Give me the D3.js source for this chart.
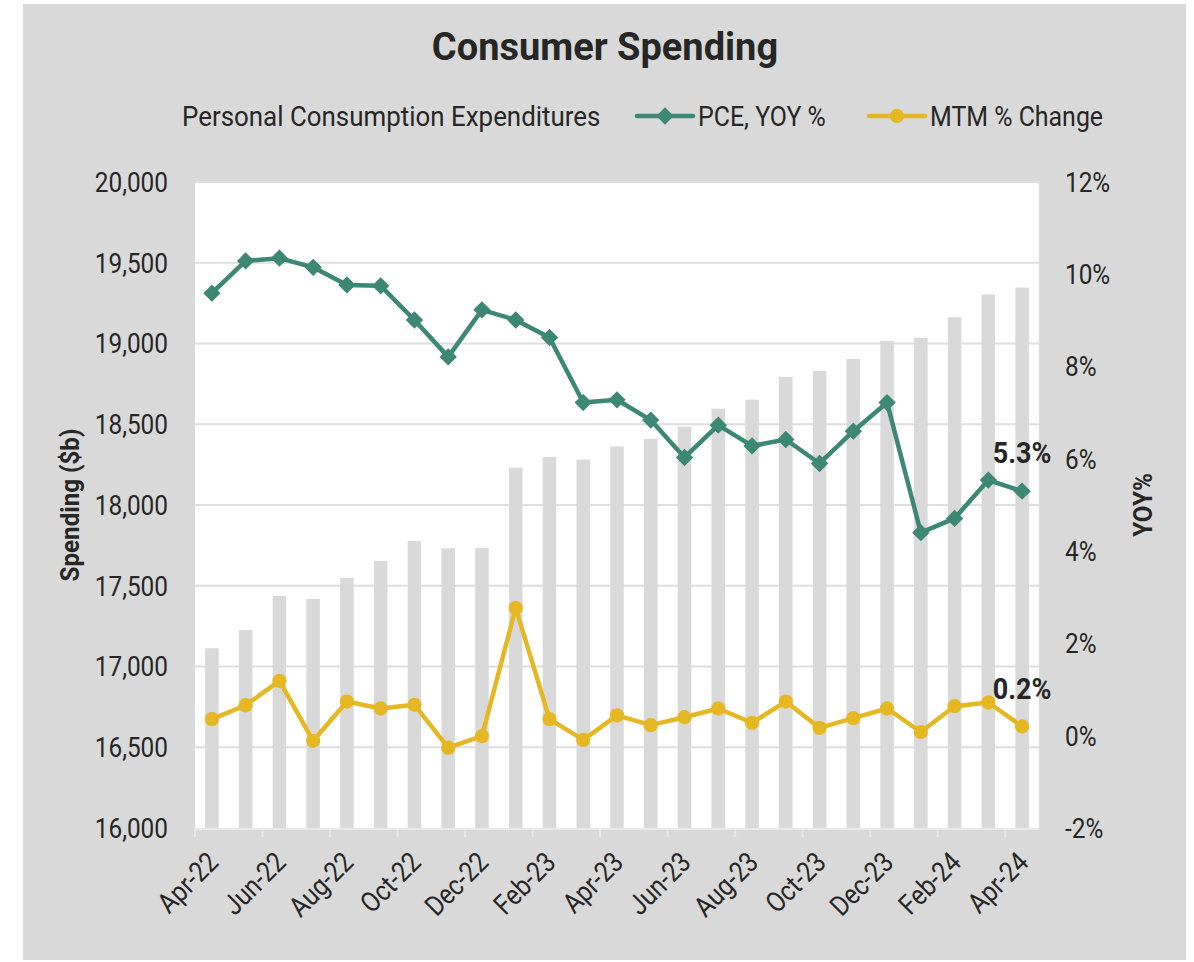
<!DOCTYPE html>
<html>
<head>
<meta charset="utf-8">
<script src="https://cdn.jsdelivr.net/npm/d3@7"></script>
<style>
  html, body { margin: 0; padding: 0; background: #ffffff; }
  svg { display: block; }
  text { font-family: Roboto, "Noto Sans", sans-serif; fill: #262626; }
</style>
</head>
<body>
<svg id="chart" width="1194" height="962"></svg>
<script>
// Monthly personal consumption expenditures, Apr-2022 .. Apr-2024
const months = ["Apr-22","May-22","Jun-22","Jul-22","Aug-22","Sep-22","Oct-22","Nov-22","Dec-22",
  "Jan-23","Feb-23","Mar-23","Apr-23","May-23","Jun-23","Jul-23","Aug-23","Sep-23","Oct-23",
  "Nov-23","Dec-23","Jan-24","Feb-24","Mar-24","Apr-24"];

// Spending level, $ billions (left axis, bars)
const spending = [17113,17226,17437,17418,17548,17653,17777,17732,17735,
  18231,18297,18281,18363,18409,18485,18596,18652,18793,18830,
  18904,19015,19034,19162,19304,19346];

// PCE year-over-year % (right axis)
const pceYoy = [9.59,10.29,10.35,10.15,9.77,9.75,9.01,8.21,9.23,
  9.01,8.63,7.22,7.28,6.84,6.03,6.73,6.28,6.42,5.90,
  6.60,7.22,4.40,4.71,5.54,5.3];

// Month-to-month % change (right axis)
const mtmChange = [0.36,0.66,1.19,-0.11,0.74,0.59,0.67,-0.26,-0.01,
  2.77,0.36,-0.09,0.44,0.23,0.40,0.59,0.28,0.74,0.17,
  0.38,0.59,0.08,0.64,0.72,0.2];

const leftTicks = [16000,16500,17000,17500,18000,18500,19000,19500,20000];
const rightTicks = [-2,0,2,4,6,8,10,12];
const xLabels = ["Apr-22","Jun-22","Aug-22","Oct-22","Dec-22","Feb-23","Apr-23",
  "Jun-23","Aug-23","Oct-23","Dec-23","Feb-24","Apr-24"];

const title = "Consumer Spending";
const seriesNames = ["Personal Consumption Expenditures", "PCE, YOY %", "MTM % Change"];

const C = {
  panel: "#d9d9d9", plot: "#ffffff", grid: "#dedede", bar: "#d9d9d9",
  green: "#3d8775", yellow: "#e5b823", axis: "#e9e9e9", text: "#262626"
};

const svg = d3.select("#chart");
const plot = { left: 195, top: 182, right: 1039, bottom: 828 };

// Text helper: draws text with a horizontal squeeze to approximate a condensed face
function addText(parent, x, y, str, o = {}) {
  const g = parent.append("g")
    .attr("transform", `translate(${x},${y}) rotate(${o.rotate || 0}) scale(${o.sx || 1},1)`);
  g.append("text")
    .attr("text-anchor", o.anchor || "start")
    .attr("dy", o.dy || 0)
    .style("font-size", (o.size || 28) + "px")
    .style("font-weight", o.weight || 400)
    .text(str);
  return g;
}

// Background panel and plot area
svg.append("rect").attr("x", 23).attr("y", 4).attr("width", 1163).attr("height", 956).attr("fill", C.panel);
svg.append("rect").attr("x", plot.left).attr("y", plot.top)
  .attr("width", plot.right - plot.left).attr("height", plot.bottom - plot.top).attr("fill", C.plot);

// Scales
const x = d3.scaleBand().domain(months).range([plot.left, plot.right]).paddingInner(0.6).paddingOuter(0.3);
const xc = m => x(m) + x.bandwidth() / 2;
const yL = d3.scaleLinear().domain([16000, 20000]).range([plot.bottom, plot.top]);
const yR = d3.scaleLinear().domain([-2, 12]).range([plot.bottom, plot.top]);

// Gridlines
svg.append("g").selectAll("line").data(leftTicks.slice(1)).join("line")
  .attr("x1", plot.left).attr("x2", plot.right)
  .attr("y1", d => yL(d)).attr("y2", d => yL(d))
  .attr("stroke", C.grid).attr("stroke-width", 2);

// Bars: spending level
svg.append("g").selectAll("rect").data(months).join("rect")
  .attr("x", m => x(m)).attr("width", x.bandwidth())
  .attr("y", (m, i) => yL(spending[i]))
  .attr("height", (m, i) => yL(16000) - yL(spending[i]))
  .attr("fill", C.bar);

// Category axis line and ticks (every second month boundary)
const step = x.step();
svg.append("line").attr("x1", plot.left).attr("x2", plot.right)
  .attr("y1", plot.bottom + 1).attr("y2", plot.bottom + 1)
  .attr("stroke", C.axis).attr("stroke-width", 2);
svg.append("g").selectAll("line").data(d3.range(0, months.length, 2)).join("line")
  .attr("x1", i => plot.left + i * step).attr("x2", i => plot.left + i * step)
  .attr("y1", plot.bottom).attr("y2", plot.bottom + 9)
  .attr("stroke", C.axis).attr("stroke-width", 2);

// Left axis labels
const fmt = d3.format(",");
leftTicks.forEach(t => addText(svg, 168, yL(t), fmt(t), { anchor: "end", dy: "0.35em", size: 28, sx: 0.87 }));

// Right axis labels
rightTicks.forEach(t => addText(svg, 1065, yR(t), t + "%", { anchor: "start", dy: "0.35em", size: 28, sx: 0.87 }));

// Rotated month labels
xLabels.forEach(m => addText(svg, xc(m) + 8, 864, m, { anchor: "end", rotate: -45, size: 28, sx: 0.87 }));

// Axis titles
addText(svg, 79, (plot.top + plot.bottom) / 2, "Spending ($b)", { anchor: "middle", rotate: -90, size: 26, weight: 700, sx: 0.93 });
addText(svg, 1152, (plot.top + plot.bottom) / 2, "YOY%", { anchor: "middle", rotate: -90, size: 26, weight: 700, sx: 0.93 });

// Lines
function drawSeries(values, color, marker) {
  const pts = months.map((m, i) => [xc(m), yR(values[i])]);
  svg.append("path").attr("d", d3.line()(pts))
    .attr("fill", "none").attr("stroke", color).attr("stroke-width", 4.5)
    .attr("stroke-linejoin", "round");
  const sym = marker === "diamond"
    ? d3.symbol().type(d3.symbolSquare).size(150)
    : d3.symbol().type(d3.symbolCircle).size(160);
  svg.append("g").selectAll("path").data(pts).join("path")
    .attr("d", sym())
    .attr("transform", d => `translate(${d[0]},${d[1]})${marker === "diamond" ? " rotate(45)" : ""}`)
    .attr("fill", color);
  return pts;
}
const pcePts = drawSeries(pceYoy, C.green, "diamond");
const mtmPts = drawSeries(mtmChange, C.yellow, "circle");

// Value labels for the latest month
const last = months.length - 1;
const pct = d3.format(".1f");
addText(svg, pcePts[last][0], pcePts[last][1] - 28, pct(pceYoy[last]) + "%", { anchor: "middle", size: 30, weight: 700, sx: 0.9 });
addText(svg, mtmPts[last][0], mtmPts[last][1] - 27, pct(mtmChange[last]) + "%", { anchor: "middle", size: 30, weight: 700, sx: 0.9 });

// Title
addText(svg, 605, 60, title, { anchor: "middle", size: 38, weight: 700 });

// Legend
const legY = 116;
addText(svg, 182, legY, seriesNames[0], { dy: "0.35em", size: 28, sx: 0.925 });
function legendItem(x0, color, marker, label) {
  svg.append("line").attr("x1", x0).attr("x2", x0 + 56).attr("y1", legY).attr("y2", legY)
    .attr("stroke", color).attr("stroke-width", 4.5).attr("stroke-linecap", "round");
  const sym = marker === "diamond"
    ? d3.symbol().type(d3.symbolSquare).size(150)
    : d3.symbol().type(d3.symbolCircle).size(160);
  svg.append("path").attr("d", sym())
    .attr("transform", `translate(${x0 + 28},${legY})${marker === "diamond" ? " rotate(45)" : ""}`)
    .attr("fill", color);
  addText(svg, x0 + 61, legY, label, { dy: "0.35em", size: 28, sx: 0.89 });
}
legendItem(637, C.green, "diamond", seriesNames[1]);
legendItem(869, C.yellow, "circle", seriesNames[2]);
</script>
</body>
</html>
